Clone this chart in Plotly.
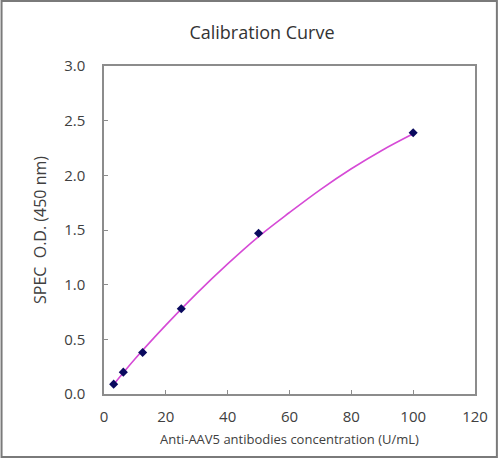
import plotly.graph_objects as go

# measured standards (concentration U/mL vs OD450)
conc = [3.125, 6.25, 12.5, 25, 50, 100]
od450 = [0.09, 0.20, 0.38, 0.78, 1.47, 2.39]

# fitted curve
fit_x = [3.5, 10, 20, 30, 40, 50, 60, 70, 80, 90, 100]
fit_y = [0.10, 0.32, 0.63, 0.92, 1.19, 1.44, 1.66, 1.87, 2.06, 2.23, 2.38]

W, H = 500, 458
ml, mr, mt, mb = 104, 23, 66, 64
pw, ph = W - ml - mr, H - mt - mb

font = "Open Sans"
axis_col = "#8c8c8c"

fig = go.Figure()
fig.add_trace(go.Scatter(x=fit_x, y=fit_y, mode="lines", line_shape="spline",
                         line=dict(color="#d64ad6", width=1.6), hoverinfo="skip"))
fig.add_trace(go.Scatter(x=conc, y=od450, mode="markers",
                         marker=dict(symbol="diamond", size=7, color="#0a0a5e")))

fig.update_layout(
    width=W, height=H,
    margin=dict(l=ml, r=mr, t=mt, b=mb),
    paper_bgcolor="white", plot_bgcolor="white",
    showlegend=False,
    font=dict(family=font, color="#404040"),
    title=dict(text="Calibration Curve", x=0.524, xanchor="center",
               y=1 - 33 / H, yanchor="middle",
               font=dict(family=font, size=18, color="#333333")),
)
fig.update_xaxes(range=[0, 120], dtick=20, showgrid=False, zeroline=False,
                 showline=True, mirror=True, linecolor=axis_col, linewidth=1.5,
                 ticks="inside", ticklen=4, tickcolor=axis_col,
                 ticklabelstandoff=8,
                 tickfont=dict(size=15, color="#404040"),
                 title=dict(text="Anti-AAV5 antibodies concentration (U/mL)",
                            font=dict(size=13, color="#404040"), standoff=10))
fig.update_yaxes(range=[0, 3], dtick=0.5, tickformat=".1f", showgrid=False, zeroline=False,
                 showline=True, mirror=True, linecolor=axis_col, linewidth=1.5,
                 ticks="inside", ticklen=4, tickcolor=axis_col,
                 ticklabelstandoff=14,
                 tickfont=dict(size=15, color="#404040"),
                 title=dict(text="SPEC  O.D. (450 nm)",
                            font=dict(size=16, color="#404040"), standoff=14))

# outer frame around the whole image
fig.add_shape(type="rect", xref="paper", yref="paper",
              x0=-(ml - 1) / pw, x1=1 + (mr - 1) / pw,
              y0=-(mb - 1) / ph, y1=1 + (mt - 1) / ph,
              line=dict(color="#7a7a7a", width=2))

# page has a default body margin, drop it so the figure fills the window
fig.write_html("out.html", config={"displayModeBar": False},
               post_script="document.body.style.margin='0';")
